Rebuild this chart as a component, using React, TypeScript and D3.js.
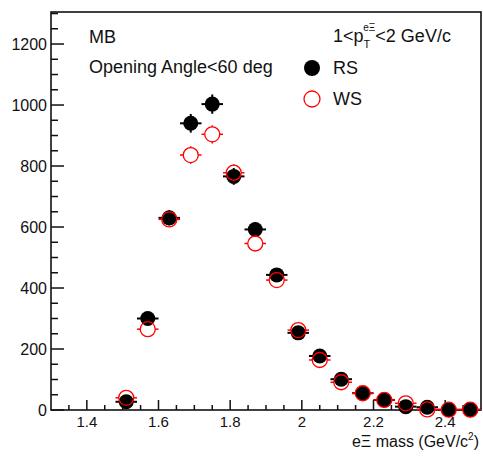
import React from "react";
import * as d3 from "d3";

const binCenters = [1.51, 1.57, 1.63, 1.69, 1.75, 1.81, 1.87, 1.93, 1.99, 2.05, 2.11, 2.17, 2.23, 2.29, 2.35, 2.41, 2.47];
const rsValues = [27, 300, 630, 940, 1003, 766, 592, 443, 253, 177, 101, 55, 33, 11, 9, 1, 1];
const wsValues = [40, 265, 625, 836, 904, 778, 546, 426, 262, 164, 91, 55, 33, 22, 2, 1, 1];
const binHalfWidth = 0.03;
const xMajorTicks = [1.4, 1.6, 1.8, 2.0, 2.2, 2.4];
const xMinorTicks = [1.35, 1.45, 1.5, 1.55, 1.65, 1.7, 1.75, 1.85, 1.9, 1.95, 2.05, 2.1, 2.15, 2.25, 2.3, 2.35, 2.45];
const yMajorTicks = [0, 200, 400, 600, 800, 1000, 1200];
const yMinorTicks = [50, 100, 150, 250, 300, 350, 450, 500, 550, 650, 700, 750, 850, 900, 950, 1050, 1100, 1150, 1250, 1300];

const W = 483;
const H = 456;
const L = 51, R = 481, T = 12, B = 410;
const FONT = "'Liberation Sans', Arial, Helvetica, sans-serif";

export default function App() {
  const x = d3.scaleLinear().domain([1.3, 2.5]).range([L, R]);
  const y = d3.scaleLinear().domain([0, 1305]).range([B, T]);
  const r = 7.5;
  const fmt = (v: number) => (Number.isInteger(v) ? String(v) : d3.format(".1f")(v));
  const xfmt = (v: number) => (Math.abs(v - 2) < 1e-9 ? "2" : d3.format(".1f")(v));

  return (
    <svg width={W} height={H} style={{ position: "fixed", left: 0, top: 0, background: "#fff" }} fontFamily={FONT}>
      <rect x={0} y={0} width={W} height={H} fill="#fff" />
      {/* frame */}
      <rect x={L} y={T} width={R - L} height={B - T} fill="none" stroke="#111" strokeWidth={1.6} />
      {/* x ticks */}
      {xMajorTicks.map((t) => (
        <g key={"xm" + t}>
          <line x1={x(t)} x2={x(t)} y1={B} y2={B - 10} stroke="#111" strokeWidth={1.5} />
          <text x={x(t)} y={427} fontSize={15} textAnchor="middle" fill="#111">{xfmt(t)}</text>
        </g>
      ))}
      {xMinorTicks.map((t) => (
        <line key={"xn" + t} x1={x(t)} x2={x(t)} y1={B} y2={B - 5} stroke="#111" strokeWidth={1.5} />
      ))}
      {/* y ticks */}
      {yMajorTicks.map((t) => (
        <g key={"ym" + t}>
          <line x1={L} x2={L + 13} y1={y(t)} y2={y(t)} stroke="#111" strokeWidth={1.5} />
          <text x={L - 4} y={y(t)} dy="0.36em" fontSize={16} textAnchor="end" fill="#111">{fmt(t)}</text>
        </g>
      ))}
      {yMinorTicks.map((t) => (
        <line key={"yn" + t} x1={L} x2={L + 7} y1={y(t)} y2={y(t)} stroke="#111" strokeWidth={1.5} />
      ))}
      {/* RS series */}
      {binCenters.map((c, i) => {
        const v = rsValues[i];
        const e = Math.sqrt(v);
        return (
          <g key={"rs" + c}>
            <line x1={x(c - binHalfWidth)} x2={x(c + binHalfWidth)} y1={y(v)} y2={y(v)} stroke="#000" strokeWidth={2} />
            <line x1={x(c)} x2={x(c)} y1={y(v - e)} y2={y(v + e)} stroke="#000" strokeWidth={2} />
            <circle cx={x(c)} cy={y(v)} r={r} fill="#000" />
          </g>
        );
      })}
      {/* WS series */}
      {binCenters.map((c, i) => {
        const v = wsValues[i];
        const e = Math.sqrt(v);
        const cx = x(c), cy = y(v);
        const segs: [number, number, number, number][] = [];
        if (x(c + binHalfWidth) - cx > r) {
          segs.push([x(c - binHalfWidth), cy, cx - r, cy]);
          segs.push([cx + r, cy, x(c + binHalfWidth), cy]);
        }
        if (cy - y(v + e) > r) {
          segs.push([cx, y(v + e), cx, cy - r]);
          segs.push([cx, cy + r, cx, y(v - e)]);
        }
        return (
          <g key={"ws" + c}>
            {segs.map((s, j) => (
              <line key={j} x1={s[0]} y1={s[1]} x2={s[2]} y2={s[3]} stroke="#ff0000" strokeWidth={1.5} />
            ))}
            <circle cx={cx} cy={cy} r={r} fill="none" stroke="#ff0000" strokeWidth={1.3} />
          </g>
        );
      })}
      {/* labels */}
      <text x={89} y={43} fontSize={18} fill="#111">MB</text>
      <text x={89} y={73} fontSize={18} fill="#111">Opening Angle&lt;60 deg</text>
      <text x={333} y={42} fontSize={18} fill="#111">
        1&lt;p
        <tspan fontSize={11} dy={6}>T</tspan>
        <tspan fontSize={10} dx={-7} dy={-17}>eΞ</tspan>
        <tspan fontSize={18} dy={11}>&lt;2 GeV/c</tspan>
      </text>
      {/* legend */}
      <circle cx={312} cy={68} r={8} fill="#000" />
      <text x={333} y={74} fontSize={18} fill="#111">RS</text>
      <circle cx={312} cy={99} r={8} fill="none" stroke="#ff0000" strokeWidth={1.3} />
      <text x={333} y={105} fontSize={18} fill="#111">WS</text>
      {/* x title */}
      <text x={479} y={447} fontSize={16} textAnchor="end" fill="#111">
        eΞ mass (GeV/c<tspan fontSize={10} dy={-7}>2</tspan><tspan dy={7}>)</tspan>
      </text>
    </svg>
  );
}
